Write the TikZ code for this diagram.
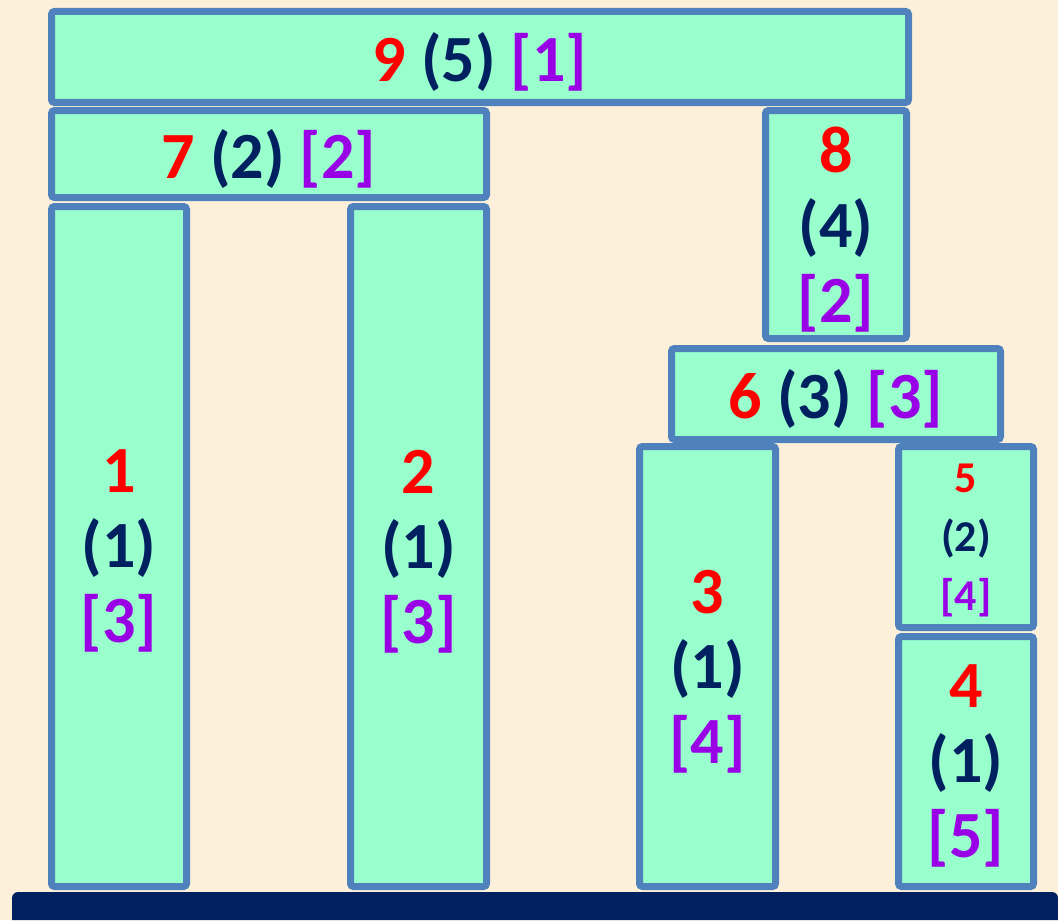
\documentclass[tikz,border=0pt]{standalone}
\usepackage{fontspec}
\setmainfont{Carlito}
\usetikzlibrary{shadows}
\definecolor{bgcream}{RGB}{252,240,218}
\definecolor{boxfill}{RGB}{153,255,204}
\definecolor{boxedge}{RGB}{79,129,189}
\definecolor{idred}{RGB}{255,0,0}
\definecolor{sizenavy}{RGB}{0,32,96}
\definecolor{rankviolet}{RGB}{153,0,230}
\newcommand{\trio}[3]{\textcolor{idred}{#1} \textcolor{sizenavy}{(#2)} \textcolor{rankviolet}{[#3]}}
\newcommand{\vtrio}[3]{\textcolor{idred}{#1}\\\textcolor{sizenavy}{(#2)}\\\textcolor{rankviolet}{[#3]}}
\tikzset{
  block/.style={draw=boxedge,fill=boxfill,line width=3.5pt,rounded corners=1.5pt,
    inner sep=0pt,align=center,text depth=0pt,font=\bfseries\fontsize{33}{37.5}\selectfont,
    drop shadow={opacity=0.25,shadow xshift=0.8pt,shadow yshift=-0.8pt}},
  smallblock/.style={block,font=\bfseries\fontsize{22}{29.5}\selectfont}
}
\begin{document}
\begin{tikzpicture}[x=0.5pt,y=-0.5pt]
  \fill[bgcream] (0,0) rectangle (1058,920);
  \useasboundingbox (0,0) rectangle (1058,920);
  % base
  \fill[sizenavy] (12,920) {[rounded corners=3pt] -- (12,892) -- (1058,892)} -- (1058,920) -- cycle;
  % blocks
  \node[block,minimum width=428.5pt,minimum height=45.5pt] (n9) at (480,57) {\trio{9}{5}{1}};
  \node[block,minimum width=217.5pt,minimum height=43.5pt] (n7) at (269,154) {\trio{7}{2}{2}};
  \node[block,minimum width=67.5pt,minimum height=340pt] (n1) at (119,546.5) {\vtrio{1}{1}{3}};
  \node[block,minimum width=68pt,minimum height=340pt] (n2) at (418.5,546.5) {\vtrio{2}{1}{3}};
  \node[block,minimum width=70.5pt,minimum height=114pt] (n8) at (836,224.5) {\vtrio{8}{4}{2}};
  \node[block,minimum width=164.5pt,minimum height=45.5pt] (n6) at (836,394) {\trio{6}{3}{3}};
  \node[block,minimum width=68pt,minimum height=220pt] (n3) at (707.5,666.5) {\vtrio{3}{1}{4}};
  \node[smallblock,minimum width=67.5pt,minimum height=90.5pt] (n5) at (966,537) {\vtrio{5}{2}{4}};
  \node[block,minimum width=67.5pt,minimum height=125pt] (n4) at (966,761.5) {\vtrio{4}{1}{5}};
\end{tikzpicture}
\end{document}
